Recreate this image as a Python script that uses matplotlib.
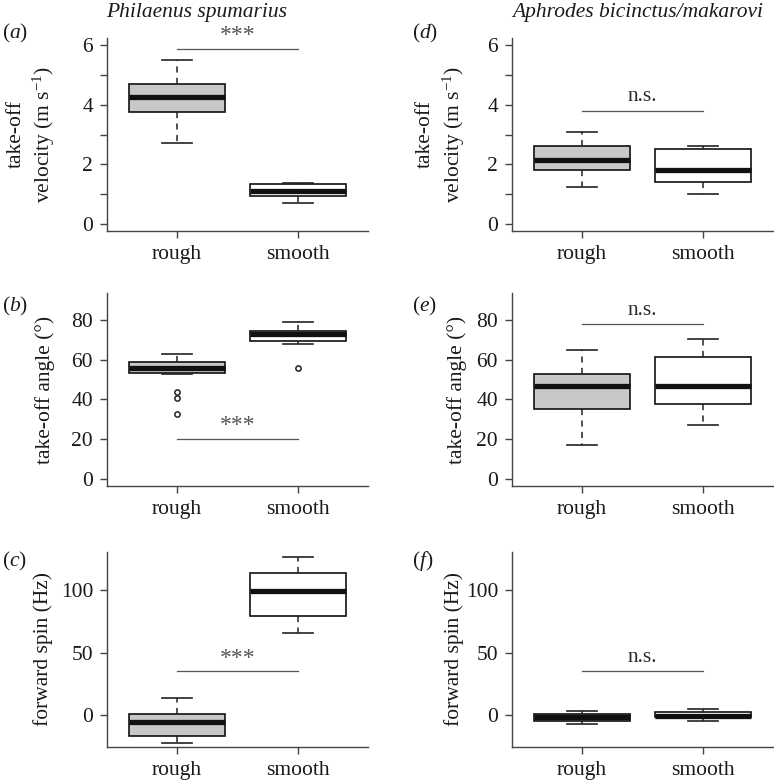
import matplotlib
matplotlib.use("Agg")
import matplotlib.pyplot as plt

plt.rcParams['font.family'] = ['Liberation Serif', 'DejaVu Serif']
plt.rcParams['mathtext.fontset'] = 'custom'
plt.rcParams['mathtext.rm'] = 'Liberation Serif'
plt.rcParams['mathtext.it'] = 'Liberation Serif:italic'

categories = ['rough', 'smooth']

# five-number summaries: [whisker low, Q1, median, Q3, whisker high]
vel_phil_rough = [2.7, 3.75, 4.25, 4.68, 5.5]
vel_phil_smooth = [0.7, 0.92, 1.1, 1.33, 1.38]
vel_aphr_rough = [1.25, 1.82, 2.15, 2.6, 3.1]
vel_aphr_smooth = [1.0, 1.42, 1.82, 2.5, 2.62]

ang_phil_rough = [53.0, 53.5, 56.0, 58.7, 63.0]
ang_phil_smooth = [68.0, 69.3, 72.8, 74.4, 79.2]
ang_phil_rough_out = [43.8, 40.8, 32.9]
ang_phil_smooth_out = [55.6]
ang_aphr_rough = [17.0, 35.0, 46.9, 53.0, 65.0]
ang_aphr_smooth = [27.0, 37.8, 46.7, 61.6, 70.3]

spin_phil_rough = [-22.8, -16.9, -5.4, 1.0, 13.3]
spin_phil_smooth = [65.8, 79.1, 99.6, 114.2, 126.5]
spin_aphr_rough = [-7.2, -4.6, -1.6, 0.8, 2.9]
spin_aphr_smooth = [-4.6, -1.9, -0.6, 2.1, 4.5]

sig_labels = ['***', '***', '***', 'n.s.', 'n.s.', 'n.s.']
sig_levels = [5.87, 20.0, 35.0, 3.8, 77.8, 35.0]

FS = 15.5
W, H = 774, 781
fig = plt.figure(figsize=(W / 100, H / 100), dpi=100)

def ax_at(left, top, right, bottom):
    return fig.add_axes([left / W, 1 - bottom / H, (right - left) / W, (bottom - top) / H])

def stats(v, fl=None):
    return dict(whislo=v[0], q1=v[1], med=v[2], q3=v[3], whishi=v[4], fliers=fl or [])

def panel(ax, rough, smooth, ylim, yticks, ylabels, ylabel, lblx, sig, siglev,
          rough_out=None, smooth_out=None, linesp=1.2):
    st = [stats(rough, rough_out), stats(smooth, smooth_out)]
    bp = ax.bxp(st, positions=[1, 2], widths=0.8, capwidths=0.25, patch_artist=True,
                boxprops=dict(linewidth=1.2, edgecolor='#111111'),
                medianprops=dict(color='#111111', linewidth=3.8, solid_capstyle='butt'),
                whiskerprops=dict(color='#222222', linewidth=1.1, linestyle=(0, (4, 3.5))),
                capprops=dict(color='#222222', linewidth=1.2),
                flierprops=dict(marker='o', markersize=3.8, markerfacecolor='none',
                                markeredgecolor='#222222', markeredgewidth=1.1))
    bp['boxes'][0].set_facecolor('#c8c8c8')
    bp['boxes'][1].set_facecolor('white')
    for c in bp['caps']:
        c.set_zorder(4)
    ax.set_xlim(0.42, 2.58)
    lo, hi = ylim
    r = hi - lo
    ax.set_ylim(lo - 0.04 * r, hi + 0.04 * r)
    ax.set_yticks(yticks)
    ax.set_yticklabels(ylabels)
    ax.set_xticks([1, 2])
    ax.set_xticklabels(categories)
    for s in ['top', 'right']:
        ax.spines[s].set_visible(False)
    for s in ['left', 'bottom']:
        ax.spines[s].set_color('#444444')
        ax.spines[s].set_linewidth(1.0)
    ax.tick_params(axis='both', length=5, width=1.0, color='#444444', labelsize=FS,
                   labelcolor='#1a1a1a')
    ax.tick_params(axis='x', pad=5)
    ax.tick_params(axis='y', pad=5)
    ax.set_ylabel(ylabel, fontsize=FS, color='#1a1a1a', linespacing=linesp)
    ax.yaxis.set_label_coords(lblx, 0.5)
    ax.plot([1, 2], [siglev, siglev], color='#555555', linewidth=0.9)
    if sig == 'n.s.':
        ax.text(1.5, siglev + 0.025 * r, sig, ha='center', va='bottom',
                fontsize=FS, color='#2a2a2a')
    else:
        ax.text(1.5, siglev + 0.015 * r, sig, ha='center', va='bottom',
                fontsize=17, color='#555555')

vel_label = 'take-off\nvelocity (m s$^{-1}$)'
ang_label = 'take-off angle (°)'
spin_label = 'forward spin (Hz)'
vt = [0, 1, 2, 3, 4, 5, 6]
vl = ['0', '', '2', '', '4', '', '6']
at = [0, 20, 40, 60, 80]
al = [str(t) for t in at]
stk = [0, 50, 100]
sl = [str(t) for t in stk]

a = ax_at(107, 38, 368, 231)
panel(a, vel_phil_rough, vel_phil_smooth, (0, 6), vt, vl, vel_label, -0.19,
      sig_labels[0], sig_levels[0], linesp=1.3)
b = ax_at(107, 293, 368, 486)
panel(b, ang_phil_rough, ang_phil_smooth, (0, 90), at, al, ang_label, -0.20,
      sig_labels[1], sig_levels[1], ang_phil_rough_out, ang_phil_smooth_out)
c = ax_at(107, 552, 368, 747)
panel(c, spin_phil_rough, spin_phil_smooth, (-20, 125), stk, sl, spin_label, -0.205,
      sig_labels[2], sig_levels[2])
d = ax_at(512, 38, 773, 231)
panel(d, vel_aphr_rough, vel_aphr_smooth, (0, 6), vt, vl, vel_label, -0.172,
      sig_labels[3], sig_levels[3], linesp=1.3)
e = ax_at(512, 293, 773, 486)
panel(e, ang_aphr_rough, ang_aphr_smooth, (0, 90), at, al, ang_label, -0.172,
      sig_labels[4], sig_levels[4])
f = ax_at(512, 552, 773, 747)
panel(f, spin_aphr_rough, spin_aphr_smooth, (-20, 125), stk, sl, spin_label, -0.184,
      sig_labels[5], sig_levels[5])

fig.text(197 / W, 1 - 13 / H, 'Philaenus spumarius', ha='center', va='center',
         fontsize=FS, fontstyle='italic', color='#1a1a1a')
fig.text(638 / W, 1 - 13 / H, 'Aphrodes bicinctus/makarovi', ha='center', va='center',
         fontsize=FS, fontstyle='italic', color='#1a1a1a')
for lt, x, y in [('a', 2, 33), ('b', 2, 306), ('c', 2, 561),
                 ('d', 412, 33), ('e', 412, 306), ('f', 412, 561)]:
    fig.text(x / W, 1 - y / H, r'$(\mathit{' + lt + r'})$', ha='left', va='center',
             fontsize=FS, color='#1a1a1a')

fig.savefig('out.png', dpi=100)
